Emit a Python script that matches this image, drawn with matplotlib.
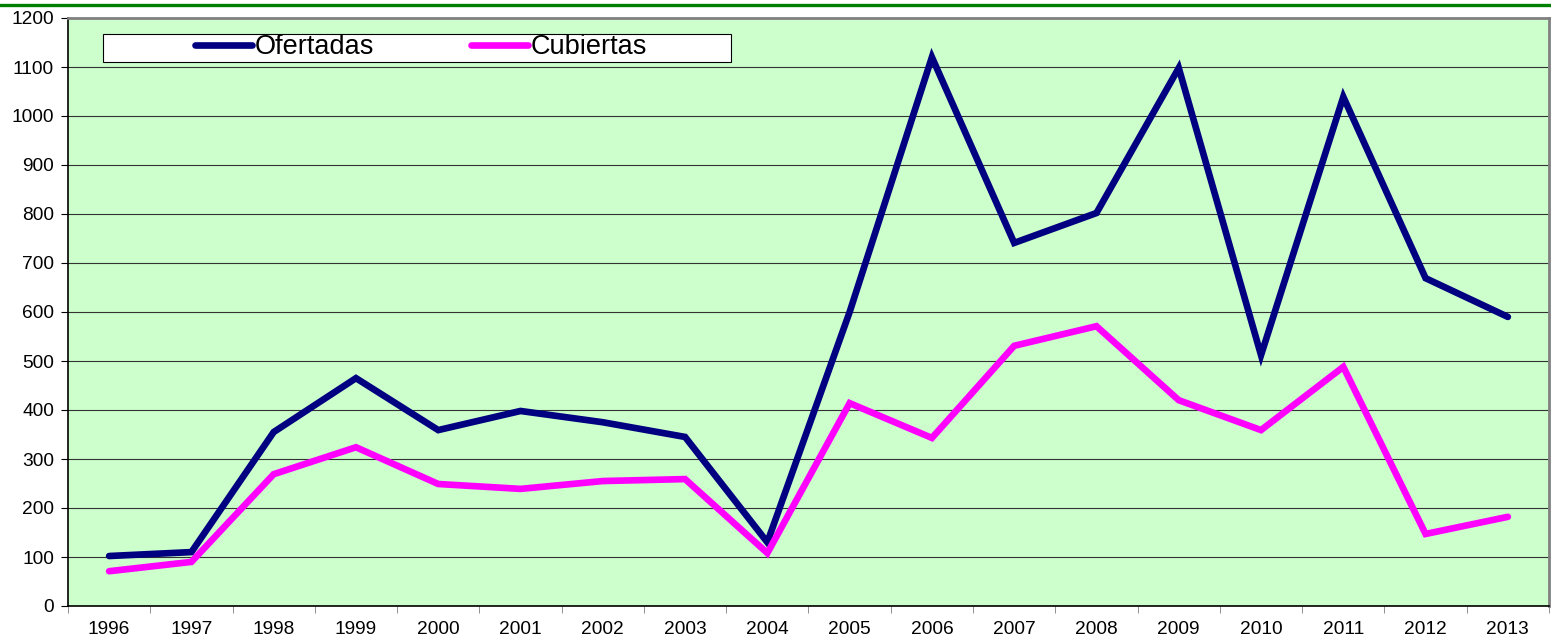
import matplotlib
matplotlib.use('Agg')
import matplotlib.pyplot as plt
from matplotlib.lines import Line2D
from matplotlib.patches import Rectangle

plt.rcParams['font.family'] = ['Liberation Sans', 'DejaVu Sans']

# ── Data ──────────────────────────────────────────────────────────────────────
years = ['1996', '1997', '1998', '1999', '2000', '2001', '2002', '2003', '2004',
         '2005', '2006', '2007', '2008', '2009', '2010', '2011', '2012', '2013']
ofertadas = [102, 110, 355, 465, 359, 398, 375, 345, 130,
             600, 1120, 741, 802, 1098, 512, 1039, 669, 590]
cubiertas = [71, 90, 269, 324, 249, 239, 255, 259, 108,
             414, 343, 531, 571, 420, 359, 488, 147, 182]

# ── Figure ────────────────────────────────────────────────────────────────────
W, H = 1551, 639
fig = plt.figure(figsize=(W / 100, H / 100), dpi=100)
fig.patch.set_facecolor('white')
ax = fig.add_axes([68 / W, 1 - 606 / H, (1549 - 68) / W, (606 - 18) / H])
ax.set_facecolor('#CCFFCC')

x = list(range(len(years)))
ax.plot(x, ofertadas, color='#000080', lw=4.8, solid_joinstyle='miter',
        solid_capstyle='round', label='Ofertadas', zorder=3)
ax.plot(x, cubiertas, color='#FF00FF', lw=4.8, solid_joinstyle='miter',
        solid_capstyle='round', label='Cubiertas', zorder=3)

ax.set_xlim(-0.5, len(years) - 0.5)
ax.set_ylim(0, 1200)
ax.set_yticks(range(0, 1201, 100))
ax.grid(axis='y', color='#333333', lw=0.8)
ax.set_axisbelow(True)

# category labels centred, tick marks between categories
ax.set_xticks(x)
ax.set_xticklabels(years, fontsize=13.8)
ax.set_xticks([i - 0.5 for i in range(len(years) + 1)], minor=True)
ax.tick_params(axis='x', which='major', length=0, pad=10.5)
ax.tick_params(axis='x', which='minor', length=5, color='#808080', direction='out')
ax.tick_params(axis='y', labelsize=13.8, length=5, direction='out', pad=5)

for side in ('left', 'bottom'):
    ax.spines[side].set_color('black')
    ax.spines[side].set_linewidth(1.2)
for side in ('top', 'right'):
    ax.spines[side].set_color('#808080')
    ax.spines[side].set_linewidth(2)

# legend box
ax.add_patch(Rectangle(((103 - 68) / 1481, (606 - 62) / 588), 628 / 1481, 28 / 588,
                       transform=ax.transAxes, facecolor='white', edgecolor='black',
                       lw=0.8, zorder=4))
leg = ax.legend(loc='center', bbox_to_anchor=((421 - 68) / 1481, (606 - 47) / 588),
                ncol=2, frameon=False, fontsize=19.5, handlelength=2.1,
                handletextpad=0.1, columnspacing=3.6, borderpad=0)
leg.set_zorder(5)

# green rule across the top
fig.add_artist(Line2D([0, 1], [1 - 4.5 / H, 1 - 4.5 / H], color='#008000', lw=2.4,
                      transform=fig.transFigure))

fig.savefig('out.png', dpi=100, facecolor=fig.get_facecolor())
